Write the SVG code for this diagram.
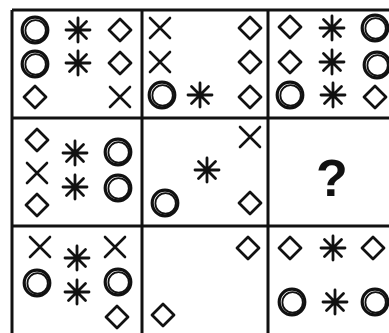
<svg xmlns="http://www.w3.org/2000/svg" xmlns:xlink="http://www.w3.org/1999/xlink" width="389" height="333" viewBox="0 0 389 333">
<style>
.g{stroke:#111;stroke-width:3;fill:none}
.s{stroke:#111;fill:none;stroke-linecap:round;stroke-linejoin:round}
</style>
<defs>
<g id="circ" class="s"><circle r="12.8" stroke-width="3.2"/><circle r="10.2" cx="0.6" cy="0.4" stroke-width="1.8"/></g>
<g id="ast" class="s" stroke-width="2.8"><path d="M-12 0H12M0 -12V12M-8.5 -8.5L8.5 8.5M-8.5 8.5L8.5 -8.5"/><circle r="3" fill="#111" stroke="none"/></g>
<path id="dia" class="s" stroke-width="2.8" d="M0 -11L11 0L0 11L-11 0Z"/>
<path id="x" class="s" stroke-width="2.6" d="M-10 -10L10 10M-10 10L10 -10"/>
</defs>
<rect width="389" height="333" fill="#fff"/>
<g id="grid" class="g">
<path d="M12 10H389M12 118H389M12 226H389M12 10V333M142 10V333M268 10V333"/>
</g>
<g id="cell1">
<use href="#circ" x="35" y="30"/><use href="#ast" x="78" y="30"/><use href="#dia" x="120" y="30"/>
<use href="#circ" x="35" y="64"/><use href="#ast" x="78" y="63"/><use href="#dia" x="120" y="63"/>
<use href="#dia" x="35" y="97"/><use href="#x" x="120" y="97"/>
</g>
<g id="cell2">
<use href="#x" x="160" y="28"/><use href="#dia" x="250" y="28"/>
<use href="#x" x="160" y="62"/><use href="#dia" x="250" y="62"/>
<use href="#circ" x="162" y="95"/><use href="#ast" x="200" y="95"/><use href="#dia" x="250" y="97"/>
</g>
<g id="cell3">
<use href="#dia" x="290" y="27"/><use href="#ast" x="332" y="28"/><use href="#circ" x="375" y="28"/>
<use href="#dia" x="290" y="62"/><use href="#ast" x="332" y="62"/><use href="#circ" x="377" y="65"/>
<use href="#circ" x="290" y="95"/><use href="#ast" x="333" y="95"/><use href="#dia" x="375" y="97"/>
</g>
<g id="cell4">
<use href="#dia" x="37" y="140"/><use href="#ast" x="75" y="153"/><use href="#circ" x="118" y="152"/>
<use href="#x" x="37" y="173"/><use href="#ast" x="75" y="187"/><use href="#circ" x="118" y="188"/>
<use href="#dia" x="37" y="205"/>
</g>
<g id="cell5">
<use href="#x" x="250" y="137"/><use href="#ast" x="207" y="170"/>
<use href="#circ" x="165" y="203"/><use href="#dia" x="250" y="203"/>
</g>
<g id="cell6">
<text x="332" y="196" font-family="Liberation Sans, Arial, sans-serif" font-size="52" font-weight="bold" text-anchor="middle" fill="#111">?</text>
</g>
<g id="cell7">
<use href="#x" x="40" y="247"/><use href="#ast" x="77" y="258"/><use href="#x" x="115" y="247"/>
<use href="#circ" x="37" y="283"/><use href="#ast" x="77" y="292"/><use href="#circ" x="118" y="282"/>
<use href="#dia" x="117" y="317"/>
</g>
<g id="cell8">
<use href="#dia" x="248" y="248"/><use href="#dia" x="163" y="315"/>
</g>
<g id="cell9">
<use href="#dia" x="290" y="248"/><use href="#ast" x="333" y="248"/><use href="#dia" x="373" y="248"/>
<use href="#circ" x="292" y="302"/><use href="#ast" x="335" y="302"/><use href="#circ" x="375" y="302"/>
</g>
</svg>
